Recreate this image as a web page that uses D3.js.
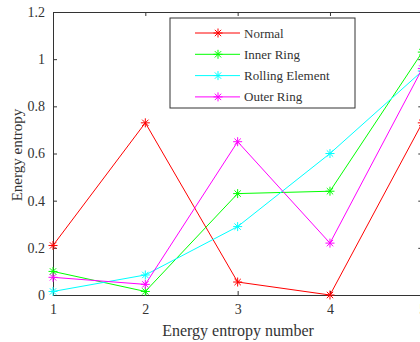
<!DOCTYPE html>
<html>
<head>
<meta charset="utf-8">
<script src="https://cdn.jsdelivr.net/npm/d3@7"></script>
<style>
  body { margin: 0; background: #fff; }
  svg { display: block; overflow: hidden; }
</style>
</head>
<body>
<div id="chart"></div>
<script>
const w = 420, h = 342;
const serif = '"Liberation Serif", "Times New Roman", serif';

// data
const xValues = [1, 2, 3, 4, 5];
const normal = [0.21, 0.73, 0.055, 0.0, 0.73];
const innerRing = [0.10, 0.015, 0.43, 0.44, 1.03];
const rolling = [0.015, 0.085, 0.29, 0.60, 0.95];
const outerRing = [0.075, 0.045, 0.65, 0.22, 0.96];
const yTicks = [0, 0.2, 0.4, 0.6, 0.8, 1, 1.2];

const series = [
  {name: 'Normal', values: normal, color: '#ff0000'},
  {name: 'Inner Ring', values: innerRing, color: '#00ff00'},
  {name: 'Rolling Element', values: rolling, color: '#00ffff'},
  {name: 'Outer Ring', values: outerRing, color: '#ff00ff'}
];

const m = {left: 53, right: 422.3, top: 12, bottom: 295};

const svg = d3.select('#chart').append('svg').attr('width', w).attr('height', h);

const x = d3.scaleLinear().domain([1, 5]).range([m.left, m.right]);
const y = d3.scaleLinear().domain([0, 1.2]).range([m.bottom, m.top]);

//axes, ticks pointing inward
const axisCol = '#333';
svg.append('g')
  .attr('transform', `translate(0,${m.bottom})`)
  .call(d3.axisBottom(x).tickValues(xValues).tickSize(-4).tickPadding(9).tickFormat(d3.format('d')));
svg.append('g')
  .attr('transform', `translate(0,${m.top})`)
  .call(d3.axisTop(x).tickValues(xValues).tickSize(-4).tickFormat(''));
svg.append('g')
  .attr('transform', `translate(${m.left},0)`)
  .call(d3.axisLeft(y).tickValues(yTicks).tickSize(-4).tickPadding(8).tickFormat(d => String(+d.toFixed(1))));
svg.append('g')
  .attr('transform', `translate(${m.right},0)`)
  .call(d3.axisRight(y).tickValues(yTicks).tickSize(-4).tickFormat(''));
svg.selectAll('.domain').attr('stroke', axisCol);
svg.selectAll('.tick line').attr('stroke', axisCol);
svg.selectAll('.tick text')
  .attr('fill', '#333')
  .attr('font-family', serif)
  .attr('font-size', 14);

// asterisk marker
function star(g, cx, cy, col, r) {
  const s = g.append('g').attr('transform', `translate(${cx},${cy})`)
    .attr('stroke', col).attr('stroke-width', 1);
  [0, 45, 90, 135].forEach(a => {
    const rad = a * Math.PI / 180;
    s.append('line')
      .attr('x1', -r * Math.cos(rad)).attr('y1', -r * Math.sin(rad))
      .attr('x2', r * Math.cos(rad)).attr('y2', r * Math.sin(rad));
  });
}

const line = d3.line().x((d, i) => x(xValues[i])).y(d => y(d));

series.forEach(s => {
  const g = svg.append('g');
  g.append('path').datum(s.values)
    .attr('d', line)
    .attr('fill', 'none')
    .attr('stroke', s.color)
    .attr('stroke-width', 1);
  s.values.forEach((v, i) => star(g, x(xValues[i]), y(v), s.color, 4.5));
});

// legend
const leg = svg.append('g');
leg.append('rect')
  .attr('x', 170).attr('y', 18).attr('width', 185).attr('height', 90)
  .attr('fill', '#fff').attr('stroke', axisCol).attr('stroke-width', 1);
series.forEach((s, i) => {
  const ly = 33 + i * 21.3;
  leg.append('line').attr('x1', 195).attr('x2', 240).attr('y1', ly).attr('y2', ly)
    .attr('stroke', s.color).attr('stroke-width', 1);
  star(leg, 218, ly, s.color, 4.5);
  leg.append('text').attr('x', 244).attr('y', ly + 4.5)
    .attr('font-family', serif).attr('font-size', 13).attr('fill', '#333')
    .text(s.name);
});

// axis labels
svg.append('text')
  .attr('x', 238).attr('y', 336)
  .attr('text-anchor', 'middle')
  .attr('font-family', serif).attr('font-size', 16).attr('fill', '#333')
  .text('Energy entropy number');
svg.append('text')
  .attr('transform', 'translate(22,155) rotate(-90)')
  .attr('text-anchor', 'middle')
  .attr('font-family', serif).attr('font-size', 15).attr('fill', '#333')
  .text('Energy entropy');
</script>
</body>
</html>
